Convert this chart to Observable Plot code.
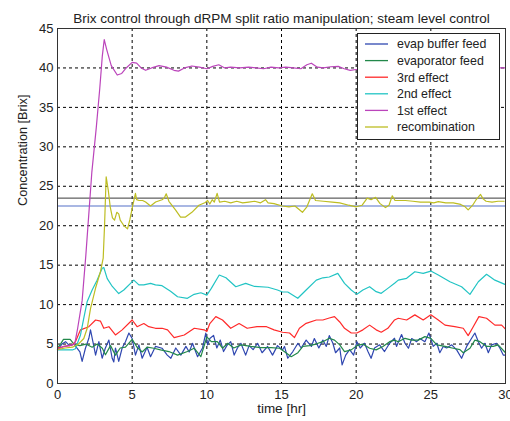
<!DOCTYPE html>
<html>
<head>
<meta charset="utf-8">
<script src="https://cdn.jsdelivr.net/npm/d3@7"></script>
<script src="https://cdn.jsdelivr.net/npm/@observablehq/plot@0.6"></script>
<style>
  html, body { margin: 0; padding: 0; background: #fff; }
  #chart { position: relative; width: 510px; height: 421px; }
  svg { font-family: "Liberation Sans", Arial, sans-serif; }
</style>
</head>
<body>
<div id="chart"></div>
<script>
// Brix readings over time, [hour, brix] pairs, one array per stream
const evapBufferFeed = [[0,4.3],[0.3,5.0],[0.54,5.3],[0.8,4.8],[1.1,5.0],[1.5,4.0],[1.65,2.8],[1.87,4.47],[2.1,5.73],[2.21,6.8],[2.37,5.3],[2.55,3.6],[2.77,5.3],[2.99,3.2],[3.2,4.47],[3.44,5.5],[3.66,3.2],[3.77,2.74],[3.88,4.5],[4.1,2.8],[4.33,4.5],[4.55,5.3],[4.78,6.4],[5.0,5.7],[5.22,3.6],[5.45,4.9],[5.67,3.2],[6.0,4.6],[6.23,3.4],[6.56,4.7],[7.0,4.47],[7.35,3.6],[7.59,3.2],[7.92,4.5],[8.26,3.6],[8.6,4.7],[8.82,4.0],[9.04,5.1],[9.38,3.4],[9.71,4.5],[9.93,6.4],[10.05,4.9],[10.2,5.7],[10.45,6.1],[10.67,4.5],[10.9,5.5],[11.12,4.05],[11.34,4.8],[11.6,5.3],[11.83,3.6],[12.05,4.5],[12.28,5.1],[12.6,3.6],[12.83,4.8],[13.1,4.3],[13.4,5.1],[13.7,3.9],[14.07,4.7],[14.4,3.6],[14.73,4.8],[15.07,4.26],[15.2,4.7],[15.42,3.2],[15.76,4.05],[16.1,5.1],[16.32,4.5],[16.65,5.5],[17.0,4.7],[17.2,5.7],[17.5,4.5],[17.77,5.5],[18.0,4.7],[18.2,6.07],[18.44,5.1],[18.62,3.9],[18.9,4.5],[19.06,2.36],[19.3,3.6],[19.56,4.3],[19.83,3.6],[20.05,5.3],[20.27,4.5],[20.56,5.1],[20.79,4.05],[21.0,3.2],[21.23,4.5],[21.57,4.9],[21.9,4.05],[22.24,5.1],[22.57,5.73],[22.7,4.7],[23.04,6.2],[23.27,5.1],[23.5,4.47],[23.72,5.7],[24.05,5.3],[24.27,5.7],[24.6,5.3],[24.87,6.4],[25.16,4.7],[25.4,5.1],[25.6,3.9],[25.83,4.7],[26.06,4.5],[26.4,4.9],[26.73,4.26],[27.06,3.2],[27.4,4.7],[27.73,5.73],[27.95,6.4],[28.18,5.3],[28.4,4.47],[28.62,5.1],[28.85,3.9],[29.07,4.9],[29.4,5.1],[29.62,4.5],[29.85,3.6],[30,3.6]];

const evaporatorFeed = [[0,4.5],[0.2,5.0],[0.4,5.6],[0.85,5.6],[1.1,5.0],[1.5,4.8],[1.9,5.0],[2.32,4.6],[2.66,5.0],[3.0,4.47],[3.21,3.64],[3.55,4.8],[3.88,3.6],[4.2,4.5],[4.55,4.6],[5.0,5.6],[5.33,4.6],[5.67,4.0],[6.0,4.6],[6.45,4.47],[6.9,4.26],[7.46,4.05],[8.04,3.6],[8.7,4.05],[9.15,4.47],[9.6,3.4],[10.0,5.9],[10.3,5.3],[10.7,5.3],[11.05,4.47],[11.4,5.1],[11.8,4.5],[12.3,4.9],[12.95,4.7],[13.6,4.55],[14.3,4.55],[14.87,4.47],[15.3,3.9],[15.65,3.4],[16.1,3.9],[16.43,4.7],[16.88,4.8],[17.3,5.0],[17.77,5.3],[18.2,5.73],[18.55,5.5],[18.9,4.9],[19.22,4.05],[19.67,4.26],[20.05,4.8],[20.45,5.0],[20.9,4.47],[21.34,4.26],[21.79,4.7],[22.24,5.3],[22.57,5.5],[22.82,5.3],[23.27,5.73],[23.72,5.5],[24.16,5.5],[24.6,5.94],[25.0,5.73],[25.4,4.9],[25.95,4.7],[26.5,4.47],[26.95,4.3],[27.17,3.9],[27.62,4.47],[27.95,5.5],[28.29,5.3],[28.73,4.7],[29.18,4.7],[29.51,4.9],[30,3.9]];

const thirdEffect = [[0,4.5],[0.5,4.7],[1.0,4.9],[1.2,5.3],[1.54,6.8],[2.1,7.2],[2.55,8.05],[2.88,7.9],[3.1,7.0],[3.44,7.2],[3.88,6.15],[4.33,6.8],[5.0,8.05],[5.33,7.2],[5.78,7.6],[6.11,7.2],[6.56,7.0],[7.0,7.0],[7.37,6.8],[7.81,5.82],[8.49,6.15],[9.16,7.0],[9.82,6.8],[10.0,6.6],[10.2,7.6],[10.6,8.48],[11.05,8.05],[11.6,7.0],[12.16,7.6],[12.7,7.0],[13.36,7.2],[14.0,7.2],[14.5,6.8],[15.07,6.5],[15.54,6.4],[15.87,5.82],[16.2,7.0],[16.65,7.63],[17.33,8.05],[17.77,8.05],[18.2,8.3],[18.55,8.48],[18.9,7.8],[19.22,7.0],[19.67,6.4],[20.05,6.4],[20.45,6.8],[20.9,7.4],[21.34,6.8],[21.68,6.5],[22.12,7.0],[22.57,8.05],[22.82,8.27],[23.38,8.05],[23.93,8.7],[24.49,8.05],[25.0,8.7],[25.5,8.05],[25.95,7.4],[26.6,7.2],[27.17,7.0],[27.5,6.07],[27.84,7.2],[28.22,8.48],[28.73,8.27],[29.29,7.4],[29.74,7.4],[30,6.9]];

const secondEffect = [[0,4.25],[0.5,4.25],[1.0,4.25],[1.2,4.4],[1.54,6.15],[1.76,8.3],[1.99,10.4],[2.32,11.85],[2.65,13.1],[2.99,14.6],[3.1,14.7],[3.33,13.3],[3.67,12.3],[4.1,11.4],[4.44,11.85],[4.89,12.7],[5.11,13.1],[5.45,12.5],[5.78,12.5],[6.23,12.7],[6.56,12.5],[7.0,12.4],[7.57,11.7],[8.04,11.0],[8.7,10.8],[9.15,11.3],[9.6,11.5],[10.0,11.2],[10.3,12.06],[10.83,13.75],[11.28,13.4],[11.94,12.27],[12.6,12.7],[13.2,12.3],[14.1,12.2],[14.73,11.85],[15.07,11.6],[15.42,11.6],[16.09,10.8],[16.65,11.85],[17.33,13.1],[17.77,13.4],[18.2,13.5],[18.77,13.96],[19.22,12.7],[19.67,11.85],[20.05,11.3],[20.45,11.85],[20.9,12.27],[21.34,11.64],[21.68,11.43],[22.12,12.06],[22.57,12.7],[22.82,13.1],[23.38,13.33],[23.93,14.17],[24.49,13.96],[25.0,14.25],[25.5,13.75],[26.28,12.9],[27.06,12.27],[27.62,11.3],[28.18,12.9],[28.73,13.84],[29.29,13.1],[29.96,12.57]];

const firstEffect = [[0,4.3],[0.4,4.7],[0.8,4.8],[1.15,5.0],[1.35,7.0],[1.65,10.5],[1.9,16.3],[2.3,26.8],[2.6,32.5],[2.83,37.4],[3.0,41.5],[3.13,43.6],[3.3,42.3],[3.6,40.3],[4.0,39.1],[4.3,39.3],[4.6,40.0],[5.0,40.7],[5.3,40.6],[5.6,40.0],[5.9,39.7],[6.3,40.0],[6.8,40.3],[7.3,40.1],[7.8,39.7],[8.1,39.6],[8.5,40.0],[9.0,40.25],[9.5,40.1],[10.0,39.9],[10.4,40.2],[10.8,40.4],[11.2,40.0],[11.6,40.1],[12.2,40.0],[12.8,40.1],[13.3,40.0],[13.8,39.9],[14.3,40.1],[14.8,40.0],[15.3,40.1],[15.8,40.0],[16.3,39.9],[16.7,40.4],[17.0,40.6],[17.4,40.1],[17.8,40.0],[18.3,40.15],[18.8,40.2],[19.2,39.9],[19.6,39.7],[20.0,39.8],[21.0,40.0],[22.0,40.1],[23.0,39.9],[24.0,40.1],[25.0,40.0],[26.0,40.0],[27.0,40.1],[28.0,39.9],[29.0,40.0],[30,40.0]];

const recombination = [[0,4.3],[0.5,4.5],[1.0,4.6],[1.4,5.0],[1.76,5.7],[1.99,7.0],[2.21,9.5],[2.55,12.1],[2.88,14.2],[3.06,15.9],[3.15,20],[3.22,24],[3.26,26.2],[3.4,24.5],[3.53,22.4],[3.68,21.0],[3.82,20.7],[3.97,21.7],[4.1,21.5],[4.2,20.7],[4.45,20.0],[4.69,19.6],[4.85,20.8],[5.02,22.4],[5.22,24.1],[5.3,23.3],[5.46,23.2],[5.7,23.2],[5.9,23.0],[6.23,22.5],[6.57,23.0],[7.0,23.3],[7.15,23.5],[7.28,24.05],[7.46,23.1],[7.9,22.0],[8.24,21.1],[8.57,21.1],[9.0,21.7],[9.47,22.6],[9.9,22.95],[10.05,23.2],[10.2,22.75],[10.36,23.3],[10.5,23.0],[10.69,24.1],[10.85,23.0],[11.2,23.1],[11.6,22.9],[12.0,23.1],[12.4,22.9],[12.8,23.0],[13.2,23.1],[13.6,22.9],[13.93,23.3],[14.1,22.9],[14.5,22.8],[15.05,22.5],[15.5,22.4],[15.9,22.5],[16.4,21.7],[16.7,22.4],[17.06,24.05],[17.28,23.2],[17.8,23.1],[18.4,23.0],[18.9,22.9],[19.5,22.6],[20.0,22.4],[20.4,22.6],[20.74,23.5],[21.0,23.3],[21.3,23.6],[21.6,22.8],[21.96,22.3],[22.2,22.6],[22.42,23.8],[22.6,23.2],[23.3,23.2],[23.8,23.1],[24.3,23.0],[24.9,23.0],[25.2,22.9],[25.5,23.05],[26.0,22.9],[26.5,22.9],[27.0,22.7],[27.3,22.4],[27.5,22.0],[27.8,22.6],[28.0,23.2],[28.33,23.96],[28.5,23.4],[28.7,23.1],[29.1,23.0],[29.5,23.1],[29.9,23.1]];

// Recombination brix bounds drawn as flat reference lines
const upperLimit = [23.5];
const lowerLimit = [22.5];

const xTicks = [0, 5, 10, 15, 20, 25, 30];
const yTicks = [0, 5, 10, 15, 20, 25, 30, 35, 40, 45];

const seriesNames = ["evap buffer feed", "evaporator feed", "3rd effect", "2nd effect", "1st effect", "recombination"];
const seriesColors = ["#2f47b0", "#22884a", "#ff2a2a", "#22c4c4", "#bb44bb", "#bdbd22"];
const seriesData = [evapBufferFeed, evaporatorFeed, thirdEffect, secondEffect, firstEffect, recombination];

const gridDash = "3,3";
const font = "Liberation Sans, Arial, sans-serif";

const lineMarks = seriesData.map((d, i) =>
  Plot.line(d, {x: d => d[0], y: d => d[1], stroke: seriesColors[i], strokeWidth: 1.2, curve: "linear"})
);

const chart = Plot.plot({
  width: 510,
  height: 421,
  marginTop: 28,
  marginLeft: 57,
  marginRight: 5,
  marginBottom: 38,
  style: {fontFamily: font, fontSize: "12.5px", color: "#222", background: "#fff"},
  x: {domain: [0, 30], ticks: xTicks, label: null},
  y: {domain: [0, 45], ticks: yTicks, label: null},
  marks: [
    Plot.ruleX(xTicks.slice(1, -1), {stroke: "#000", strokeDasharray: gridDash, strokeWidth: 1}),
    Plot.ruleY(yTicks.slice(1, -1), {stroke: "#000", strokeDasharray: gridDash, strokeWidth: 1}),
    Plot.ruleY(upperLimit, {stroke: "#3a3a3a", strokeWidth: 1}),
    Plot.ruleY(lowerLimit, {stroke: "#5470c8", strokeWidth: 1.2}),
    ...lineMarks,
    Plot.frame({stroke: "#333", strokeWidth: 1}),
    Plot.axisX({ticks: xTicks, tickSize: 0, tickPadding: 6, label: null, fontSize: 13}),
    Plot.axisY({ticks: yTicks, tickSize: 0, tickPadding: 4, label: null, fontSize: 13}),
    Plot.text(["Brix control through dRPM split ratio manipulation; steam level control"], {
      frameAnchor: "top", dy: -15, fontSize: 13.5, fill: "#222"
    }),
    Plot.text(["time [hr]"], {frameAnchor: "bottom", dy: 29, fontSize: 13.5, fill: "#222"}),
    Plot.text(["Concentration [Brix]"], {frameAnchor: "left", dx: -35, rotate: -90, fontSize: 12.7, fill: "#222"})
  ]
});

document.getElementById("chart").appendChild(chart);

// Legend box in the upper right of the axes
const svg = d3.select(chart);
const lg = svg.append("g").attr("transform", "translate(357,33)");
lg.append("rect").attr("x", 0.5).attr("y", 0.5).attr("width", 142).attr("height", 106)
  .attr("fill", "#fff").attr("stroke", "#222").attr("stroke-width", 1);
seriesNames.forEach((name, i) => {
  const cy = 11 + i * 16.6;
  lg.append("line").attr("x1", 8).attr("x2", 31).attr("y1", cy).attr("y2", cy)
    .attr("stroke", seriesColors[i]).attr("stroke-width", 1.3);
  lg.append("text").attr("x", 40).attr("y", cy).attr("dy", "0.35em")
    .attr("text-anchor", "start")
    .attr("font-size", 12.4).attr("fill", "#222").attr("font-family", font).text(name);
});
</script>
</body>
</html>
